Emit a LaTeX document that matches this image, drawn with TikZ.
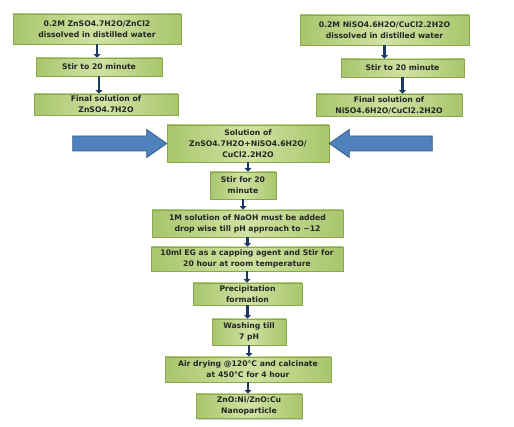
\documentclass[tikz,border=0pt]{standalone}
\usepackage{fontspec}
\setmainfont{DejaVu Sans}
\usetikzlibrary{arrows.meta,calc,shadows}
\definecolor{BoxGreen}{RGB}{168,198,108}
\definecolor{BoxLight}{RGB}{208,226,162}
\definecolor{BoxEdge}{RGB}{138,168,78}
\definecolor{FlowBlue}{RGB}{31,56,100}
\definecolor{BigBlue}{RGB}{79,129,189}
\definecolor{BigEdge}{RGB}{56,93,138}

\begin{document}
\begin{tikzpicture}[x=1pt,y=-1pt,
    every node/.style={font=\bfseries\fontsize{7.7}{11}\selectfont,text=black!85},
    stepbox/.style={draw=BoxEdge,line width=0.6pt,left color=BoxGreen,right color=BoxGreen,
      middle color=BoxLight,align=center,inner sep=1pt,
      drop shadow={shadow xshift=1pt,shadow yshift=-1.5pt,opacity=0.35}},
    flow/.style={-{Triangle[width=6.5pt,length=3.5pt]},FlowBlue,line width=2.4pt},
    bigarrow/.style={draw=BigEdge,fill=BigBlue,line width=0.8pt}]
  \useasboundingbox (0,0) rectangle (514,427);

  % two starting branches
  \node[stepbox,minimum width=168pt,minimum height=30pt] (zn1) at (97,29)
    {0.2M ZnSO4.7H2O/ZnCl2\\dissolved in distilled water};
  \node[stepbox,minimum width=126pt,minimum height=18pt] (zn2) at (99,67) {Stir to 20 minute};
  \node[stepbox,minimum width=144pt,minimum height=21pt] (zn3) at (106,104.5)
    {Final solution of\\ZnSO4.7H2O};
  \node[stepbox,minimum width=169pt,minimum height=30pt] (ni1) at (384.5,30)
    {0.2M NiSO4.6H2O/CuCl2.2H2O\\dissolved in distilled water};
  \node[stepbox,minimum width=123pt,minimum height=18pt] (ni2) at (402.5,68) {Stir to 20 minute};
  \node[stepbox,minimum width=146pt,minimum height=22pt] (ni3) at (389,105)
    {Final solution of\\NiSO4.6H2O/CuCl2.2H2O};

  % main column
  \foreach \n/\x/\y/\w/\h/\t in {
      sol/248/143.5/162/37/{Solution of\\ZnSO4.7H2O+NiSO4.6H2O/\\CuCl2.2H2O},
      stir/243/185.5/66/27/{Stir for 20\\minute},
      naoh/247.5/223.5/191/27/{1M solution of NaOH must be added\\drop wise till pH approach to \textasciitilde 12},
      eg/247/259/192/24/{10ml EG as a capping agent and Stir for\\20 hour at room temperature},
      prec/247.5/294/109/22/{Precipitation\\formation},
      wash/249/332/74/26/{Washing till\\7 pH},
      air/248/369.5/166/25/{Air drying @120°C and calcinate\\at 450°C for 4 hour},
      prod/249/406/106/24/{ZnO:Ni/ZnO:Cu\\Nanoparticle}}{
    \node[stepbox,minimum width=\w pt,minimum height=\h pt] (\n) at (\x,\y) {\t};
  }

  \foreach \a/\b in {zn1/zn2,zn2/zn3,ni1/ni2,ni2/ni3,sol/stir,stir/naoh,
      naoh/eg,eg/prec,prec/wash,wash/air,air/prod}
    \draw[flow] (\a.south) -- (\a.south |- \b.north);

  % block arrows into the mixed solution
  \draw[bigarrow] (sol.west) -- ++(-20,-14) -- ++(0,6.5) -- ++(-74,0) -- ++(0,15)
    -- ++(74,0) -- ++(0,6.5) -- cycle;
  \draw[bigarrow] (sol.east) -- ++(20,-14) -- ++(0,6.5) -- ++(83,0) -- ++(0,15)
    -- ++(-83,0) -- ++(0,6.5) -- cycle;
\end{tikzpicture}
\end{document}
